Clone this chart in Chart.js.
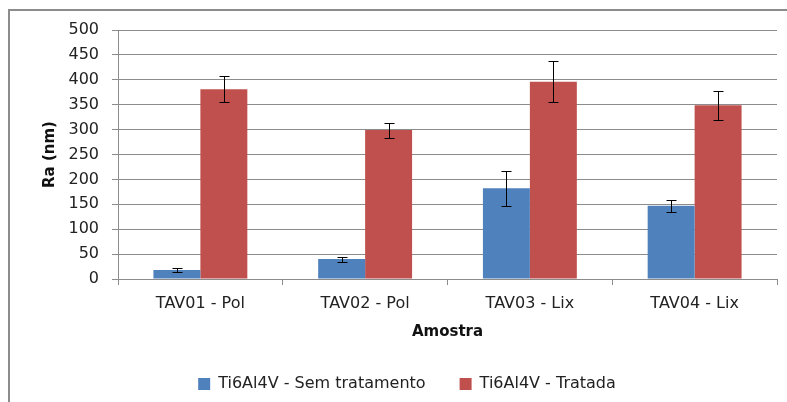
<!DOCTYPE html>
<html>
<head>
<meta charset="utf-8">
<script src="https://cdn.jsdelivr.net/npm/chart.js@4/dist/chart.umd.min.js"></script>
<style>
  html, body { margin: 0; padding: 0; background: #fff; overflow: hidden; }
  canvas { display: block; }
</style>
</head>
<body>
<canvas id="chart" width="787" height="402"></canvas>
<script>
const categories = ["TAV01 - Pol", "TAV02 - Pol", "TAV03 - Lix", "TAV04 - Lix"];
const semTratamento = [18, 40, 182, 147];
const semTratamentoErr = [4, 5, 35, 12];
const tratada = [381, 299, 396, 349];
const tratadaErr = [26, 15, 41, 29];
const yTicks = { min: 0, max: 500, step: 50 };

const errors = [semTratamentoErr, tratadaErr];

// outer chart frame, only left and top edges are visible in the picture
const frame = {
  id: "frame",
  beforeDraw(chart) {
    const ctx = chart.ctx;
    ctx.save();
    ctx.strokeStyle = "#8c8c8c";
    ctx.lineWidth = 2;
    ctx.beginPath();
    ctx.moveTo(9, chart.height);
    ctx.lineTo(9, 10);
    ctx.lineTo(chart.width, 10);
    ctx.stroke();
    ctx.restore();
  }
};

// draws the error bars using the y scale
const errorBars = {
  id: "errorBars",
  afterDatasetsDraw(chart) {
    const ctx = chart.ctx;
    const y = chart.scales.y;
    ctx.save();
    ctx.strokeStyle = "#000";
    ctx.lineWidth = 1;
    chart.data.datasets.forEach((ds, i) => {
      const meta = chart.getDatasetMeta(i);
      meta.data.forEach((bar, j) => {
        const v = ds.data[j];
        const e = errors[i][j];
        const x = Math.round(bar.x) + 0.5;
        const top = Math.round(y.getPixelForValue(v + e)) + 0.5;
        const bot = Math.round(y.getPixelForValue(v - e)) + 0.5;
        ctx.beginPath();
        ctx.moveTo(x, top); ctx.lineTo(x, bot);
        ctx.moveTo(x - 5, top); ctx.lineTo(x + 5, top);
        ctx.moveTo(x - 5, bot); ctx.lineTo(x + 5, bot);
        ctx.stroke();
      });
    });
    ctx.restore();
  }
};

const font = { family: "'DejaVu Sans', sans-serif", size: 16 };

new Chart(document.getElementById("chart"), {
  type: "bar",
  data: {
    labels: categories,
    datasets: [
      {
        label: "Ti6Al4V - Sem tratamento",
        data: semTratamento,
        backgroundColor: "#4F81BD",
        borderWidth: 0,
        categoryPercentage: 0.57,
        barPercentage: 1.0
      },
      {
        label: "Ti6Al4V - Tratada",
        data: tratada,
        backgroundColor: "#C0504D",
        borderWidth: 0,
        categoryPercentage: 0.57,
        barPercentage: 1.0
      }
    ]
  },
  options: {
    responsive: false,
    animation: false,
    layout: { padding: { left: 37, right: 10, top: 30, bottom: 0 } },
    plugins: {
      tooltip: { enabled: false },
      legend: {
        position: "bottom",
        labels: {
          color: "#222",
          font: font,
          boxWidth: 12,
          boxHeight: 12,
          padding: 34
        }
      }
    },
    scales: {
      x: {
        grid: { drawOnChartArea: false, drawTicks: true, tickLength: 6, color: "#8c8c8c" },
        border: { color: "#8c8c8c" },
        ticks: { color: "#222", font: font, padding: 9, maxRotation: 0 },
        title: {
          display: true,
          text: "Amostra",
          color: "#111",
          font: { family: "'DejaVu Sans', sans-serif", size: 15, weight: "bold" },
          padding: { top: 10, bottom: 1 }
        },
        afterFit(scale) { scale.height = 63; }
      },
      y: {
        min: yTicks.min,
        max: yTicks.max,
        grid: { color: "#8c8c8c", tickLength: 6 },
        border: { color: "#8c8c8c" },
        ticks: { stepSize: yTicks.step, color: "#222", font: font, padding: 13 },
        title: {
          display: true,
          text: "Ra (nm)",
          color: "#111",
          font: { family: "'DejaVu Sans', sans-serif", size: 15, weight: "bold" },
          padding: { top: 4, bottom: 4 }
        },
        afterFit(scale) { scale.width = 81; }
      }
    }
  },
  plugins: [frame, errorBars]
});
</script>
</body>
</html>
